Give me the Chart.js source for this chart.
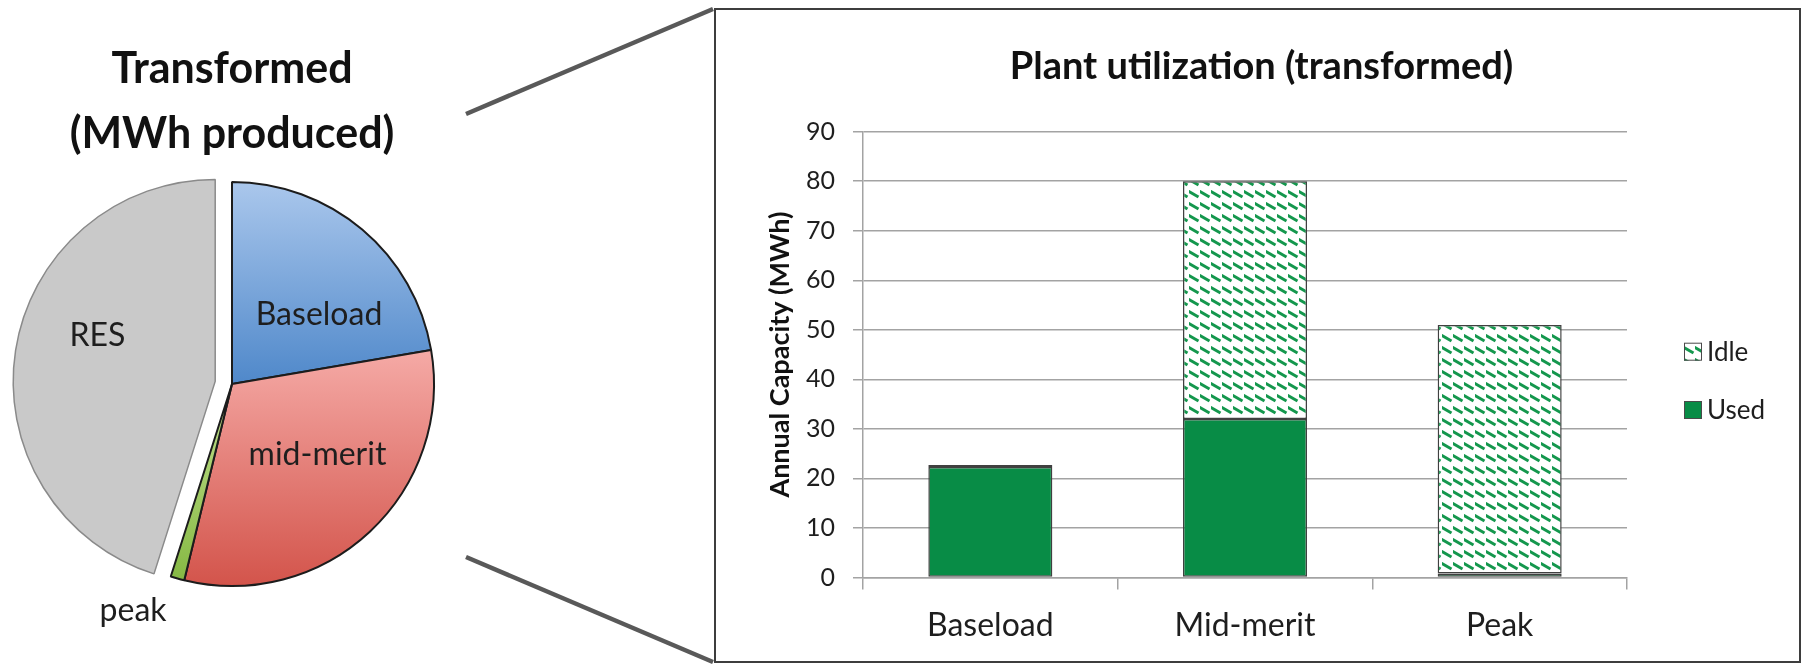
<!DOCTYPE html>
<html>
<head>
<meta charset="utf-8">
<title>Generation mix and plant utilization</title>
<script src="https://cdn.jsdelivr.net/npm/chart.js@4.4.1/dist/chart.umd.min.js"></script>
<style>
  html, body { margin: 0; padding: 0; background: #ffffff; overflow: hidden; }
  body { position: relative; width: 1806px; height: 665px; font-family: Lato, sans-serif; }
  #connectors { position: absolute; left: 0; top: 0; }
  #frame { position: absolute; left: 714px; top: 8px; width: 1087px; height: 655px;
           border: 2px solid #3d3d3d; box-sizing: border-box; background: #ffffff; }
  #pieWrap { position: absolute; left: 0; top: 0; width: 464px; height: 665px; }
  #barWrap { position: absolute; left: 716px; top: 10px; width: 1083px; height: 651px; }
</style>
</head>
<body>
<svg id="connectors" width="1806" height="665">
  <line x1="466" y1="114" x2="713" y2="9" stroke="#595959" stroke-width="4.5"/>
  <line x1="466" y1="557" x2="713" y2="662" stroke="#595959" stroke-width="4.5"/>
</svg>
<div id="frame"></div>
<div id="pieWrap"><canvas id="mixPie"></canvas></div>
<div id="barWrap"><canvas id="utilBar"></canvas></div>

<script>
// ---- Generation mix (share of MWh produced) ----
const mixLabels = ['Baseload', 'mid-merit', 'peak', 'RES'];
const mixValues = [22.3, 31.5, 1.1, 45.1];

// ---- Plant utilization ----
const plantTypes = ['Baseload', 'Mid-merit', 'Peak'];
const usedCapacity = [22.3, 32, 0.8];
const idleCapacity = [0.4, 48, 50.2];
const capacityTicks = [0, 10, 20, 30, 40, 50, 60, 70, 80, 90];

// ---- styling ----
const PIE_RADIUS = 202;
const sliceShades = [
  { top: '#aac7ec', bottom: '#4f88ca' },
  { top: '#f5aaa6', bottom: '#d3544b' },
  { top: '#c2e08e', bottom: '#86b944' },
  { top: '#c9c9c9', bottom: '#c9c9c9' }
];
const sliceBorders = ['#1c1c1c', '#1c1c1c', '#1c1c1c', '#8a8a8a'];
const sliceBorderWidths = [2, 2, 2, 1.5];
// how far each slice is pulled out of the pie (px)
const sliceExplode = [0, 0, 0, 17];
// where each slice label sits: fraction of radius, and turn (deg) from the slice middle
const sliceLabelPlacement = [
  { radius: 0.55, turn: 11.4 },
  { radius: 0.55, turn: -7.3 },
  { radius: 1.225, turn: 7.9 },
  { radius: 0.626, turn: 12.6 }
];
const USED_GREEN = '#088c46';
const HATCH_GREEN = '#14974d';
const GRID_GREY = '#a3a3a3';

// dashed downward-diagonal fill for idle capacity
function makeHatch() {
  const tile = document.createElement('canvas');
  tile.width = 11; tile.height = 12;
  const t = tile.getContext('2d');
  t.fillStyle = '#ffffff';
  t.fillRect(0, 0, 11, 12);
  t.strokeStyle = HATCH_GREEN;
  t.lineWidth = 3;
  t.beginPath();
  t.moveTo(-1, 1); t.lineTo(9.5, 7);
  t.stroke();
  return t.createPattern(tile, 'repeat');
}

// vertical gradient spanning the slice's own height
function sliceFill(context) {
  const chart = context.chart;
  const i = context.dataIndex;
  const shade = sliceShades[i];
  const area = chart.chartArea;
  if (!area) return shade.bottom;
  const data = context.dataset.data;
  const total = data.reduce((a, b) => a + b, 0);
  let before = 0;
  for (let k = 0; k < i; k++) before += data[k];
  const a0 = -Math.PI / 2 + before / total * Math.PI * 2;
  const a1 = a0 + data[i] / total * Math.PI * 2;
  const cy = (area.top + area.bottom) / 2;
  const ys = [cy, cy + PIE_RADIUS * Math.sin(a0), cy + PIE_RADIUS * Math.sin(a1)];
  if (a0 < Math.PI / 2 && a1 > Math.PI / 2) ys.push(cy + PIE_RADIUS);
  const y0 = Math.min.apply(null, ys), y1 = Math.max.apply(null, ys);
  const g = chart.ctx.createLinearGradient(0, y0, 0, Math.max(y1, y0 + 1));
  g.addColorStop(0, shade.top);
  g.addColorStop(1, shade.bottom);
  return g;
}

// draws slices itself so a slice can be pulled out without growing
const explodePlugin = {
  id: 'explodeSlices',
  beforeDatasetDraw(chart, args) {
    const ctx = chart.ctx;
    args.meta.data.forEach((arc, i) => {
      const d = sliceExplode[i] || 0;
      const mid = (arc.startAngle + arc.endAngle) / 2;
      ctx.save();
      ctx.translate(Math.cos(mid) * d, Math.sin(mid) * d);
      arc.draw(ctx, chart.chartArea);
      ctx.restore();
    });
    return false;
  }
};

const sliceLabelPlugin = {
  id: 'sliceLabels',
  afterDatasetsDraw(chart) {
    const ctx = chart.ctx;
    const meta = chart.getDatasetMeta(0);
    ctx.save();
    ctx.font = '32px Lato';
    ctx.fillStyle = '#1e1e1e';
    ctx.textAlign = 'center';
    ctx.textBaseline = 'middle';
    meta.data.forEach((arc, i) => {
      const place = sliceLabelPlacement[i];
      const mid = (arc.startAngle + arc.endAngle) / 2;
      const d = sliceExplode[i] || 0;
      const cx = arc.x + Math.cos(mid) * d;
      const cy = arc.y + Math.sin(mid) * d;
      const ang = mid + place.turn * Math.PI / 180;
      const rr = arc.outerRadius * place.radius;
      ctx.fillText(chart.data.labels[i], cx + Math.cos(ang) * rr, cy + Math.sin(ang) * rr);
    });
    ctx.restore();
  }
};

// legend placed in its own layout box on the right of the plot
const LEGEND = { width: 172, gap: 57, swatch: 18, textGap: 5, firstRow: -2.9, rowGap: 58.3 };
const sideLegendPlugin = {
  id: 'sideLegend',
  beforeInit(chart) {
    const box = {
      position: 'right', weight: 10, fullSize: false,
      options: { display: true },
      left: 0, top: 0, right: 0, bottom: 0, width: 0, height: 0,
      isHorizontal() { return false; },
      update(maxWidth, maxHeight) { this.width = LEGEND.width; this.height = maxHeight; },
      draw() {
        const ctx = chart.ctx;
        const area = chart.chartArea;
        const midY = (area.top + area.bottom) / 2;
        const items = chart.data.datasets.slice().reverse();
        ctx.save();
        ctx.font = '26px Lato';
        ctx.textAlign = 'left';
        ctx.textBaseline = 'middle';
        items.forEach((ds, k) => {
          const y = midY + LEGEND.firstRow + k * LEGEND.rowGap;
          const x = this.left + LEGEND.gap;
          const s = LEGEND.swatch;
          ctx.fillStyle = ds.backgroundColor;
          ctx.fillRect(x, y - s / 2, s, s);
          ctx.strokeStyle = '#4a4a4a';
          ctx.lineWidth = 1;
          ctx.strokeRect(x + 0.5, y - s / 2 + 0.5, s - 1, s - 1);
          ctx.fillStyle = '#1e1e1e';
          ctx.fillText(ds.label, x + s + LEGEND.textGap, y + 1);
        });
        ctx.restore();
      }
    };
    Chart.layouts.addBox(chart, box);
  }
};

function build() {
  new Chart(document.getElementById('mixPie'), {
    type: 'pie',
    data: {
      labels: mixLabels,
      datasets: [{
        data: mixValues,
        backgroundColor: sliceFill,
        borderColor: sliceBorders,
        borderWidth: sliceBorderWidths,
        radius: PIE_RADIUS
      }]
    },
    options: {
      responsive: true,
      maintainAspectRatio: false,
      animation: false,
      events: [],
      layout: { padding: { left: 0, right: 0, top: 0, bottom: 63.5 } },
      plugins: {
        legend: { display: false },
        tooltip: { enabled: false },
        title: {
          display: true,
          text: ['Transformed', '(MWh produced)'],
          color: '#111111',
          font: { family: 'Lato', weight: 'bold', size: 43, lineHeight: '65px' },
          padding: { top: 36.5, bottom: 0 }
        }
      }
    },
    plugins: [explodePlugin, sliceLabelPlugin]
  });

  const hatch = makeHatch();

  new Chart(document.getElementById('utilBar'), {
    type: 'bar',
    data: {
      labels: plantTypes,
      datasets: [
        { label: 'Used', data: usedCapacity, backgroundColor: USED_GREEN,
          borderColor: '#404040', borderWidth: 1.5, borderSkipped: false,
          categoryPercentage: 1, barPercentage: 0.487 },
        { label: 'Idle', data: idleCapacity, backgroundColor: hatch,
          borderColor: '#404040', borderWidth: 1.5, borderSkipped: false,
          categoryPercentage: 1, barPercentage: 0.487 }
      ]
    },
    options: {
      responsive: true,
      maintainAspectRatio: false,
      animation: false,
      events: [],
      layout: { padding: { left: 8, right: 0, top: 0, bottom: 0 } },
      scales: {
        x: {
          stacked: true,
          grid: { drawOnChartArea: false, drawTicks: true, tickLength: 12,
                  color: GRID_GREY, lineWidth: 1.5, offset: true },
          border: { display: true, color: GRID_GREY, width: 1.5 },
          ticks: { color: '#1e1e1e', font: { family: 'Lato', size: 32 }, padding: 17 },
          afterFit(scale) { scale.height = 83.5; }
        },
        y: {
          stacked: true,
          min: capacityTicks[0],
          max: capacityTicks[capacityTicks.length - 1],
          afterBuildTicks(scale) { scale.ticks = capacityTicks.map(v => ({ value: v })); },
          ticks: { color: '#1e1e1e', font: { family: 'Lato', size: 25 }, padding: 18 },
          grid: { color: GRID_GREY, lineWidth: 1.5, tickLength: 10 },
          border: { color: GRID_GREY, width: 1.5 },
          title: {
            display: true,
            text: 'Annual Capacity (MWh)',
            color: '#111111',
            font: { family: 'Lato', weight: 'bold', size: 27 },
            padding: { top: 40, bottom: 0 }
          },
          afterFit(scale) { scale.width = 139; }
        }
      },
      plugins: {
        legend: { display: false },
        tooltip: { enabled: false },
        title: {
          display: true,
          text: 'Plant utilization (transformed)',
          color: '#111111',
          font: { family: 'Lato', weight: 'bold', size: 38 },
          padding: { top: 33.7, bottom: 42.4 }
        }
      }
    },
    plugins: [sideLegendPlugin]
  });
}

const fontsReady = (document.fonts && document.fonts.load)
  ? Promise.all(['400 32px Lato', '700 38px Lato'].map(f => document.fonts.load(f))).catch(() => {})
  : Promise.resolve();
fontsReady.then(build);
</script>
</body>
</html>
